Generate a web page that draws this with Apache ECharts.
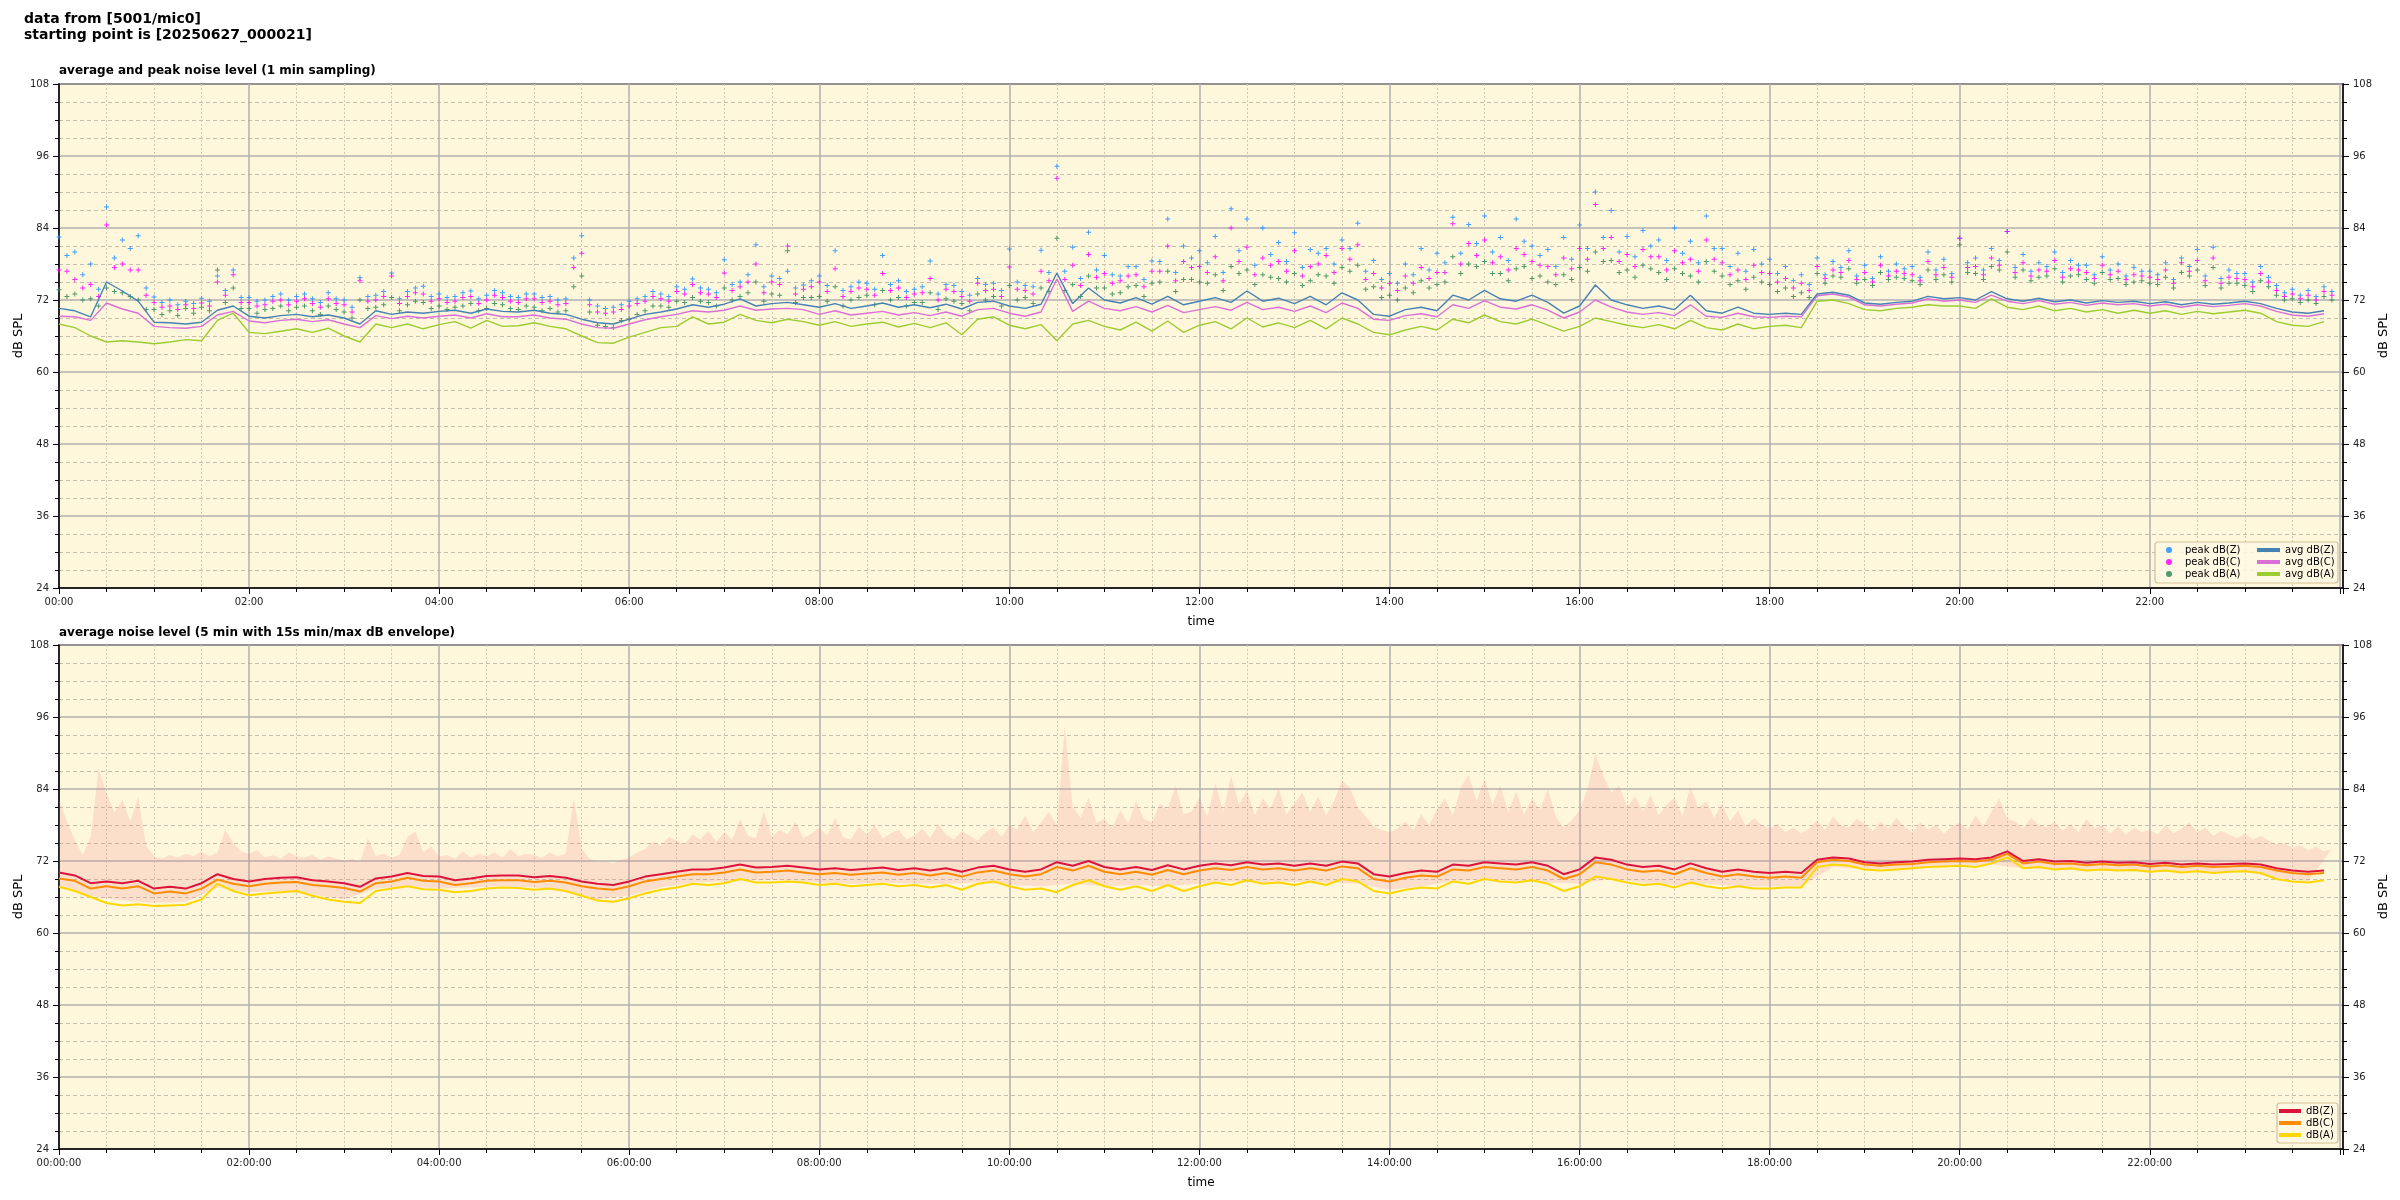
<!DOCTYPE html>
<html><head><meta charset="utf-8">
<script src="https://cdn.jsdelivr.net/npm/echarts@6/dist/echarts.min.js"></script>
<style>html,body{margin:0;padding:0;background:#fff}#c{width:2400px;height:1200px}</style>
</head><body><div id="c"></div>
<script>
// ---------- DATA (dB SPL) ----------
// top panel: 1-min sampled, read at 10-minute steps (t = 0,10,...,1430 min)
const STEP = 10;
const avgZ = [70.6,70.2,69.2,75.0,73.5,71.8, 68.3,68.2,68.0,68.3,70.3,71.0,
  69.3,69.0,69.4,69.6,69.2,69.5, 69.0,68.0,70.2,69.6,70.0,69.8,
  70.1,70.3,69.8,70.5,70.1,70.0, 70.3,69.8,69.6,68.8,68.2,68.0,
  68.8,69.6,70.0,70.5,71.2,70.8, 71.3,72.2,71.0,71.4,71.6,71.2,
  70.8,71.4,70.6,71.0,71.5,70.8, 71.2,70.7,71.3,70.5,71.6,71.8,
  71.0,70.6,71.3,76.5,71.4,74.0, 72.0,71.5,72.4,71.3,72.6,71.2,
  71.8,72.4,71.6,73.5,71.8,72.3, 71.4,72.6,71.2,73.2,72.0,69.6,
  69.3,70.4,70.8,70.2,72.8,72.0, 73.6,72.2,71.8,72.8,71.6,69.8,
  71.0,74.5,72.0,71.2,70.6,71.0, 70.4,72.8,70.2,69.8,70.8,69.8,
  69.6,69.8,69.6,73.0,73.3,72.8, 71.5,71.3,71.6,71.8,72.6,72.2,
  72.4,72.0,73.4,72.2,71.8,72.3, 71.7,72.0,71.5,71.9,71.6,71.8,
  71.4,71.7,71.2,71.6,71.3,71.5, 71.8,71.4,70.6,70.0,69.8,70.2];
const avgC = [69.3,69.2,68.6,71.5,70.5,69.8, 67.6,67.4,67.3,67.6,69.5,70.1,
  68.5,68.2,68.6,68.8,68.4,68.7, 68.0,67.4,69.4,68.9,69.3,69.0,
  69.3,69.5,69.0,69.7,69.2,69.2, 69.5,69.0,68.8,68.0,67.4,67.3,
  68.0,68.7,69.2,69.6,70.2,70.0, 70.3,71.0,70.3,70.5,70.6,70.4,
  69.6,70.2,69.5,69.8,70.1,69.5, 69.9,69.4,70.0,69.3,70.4,70.6,
  69.8,69.3,70.0,75.5,70.1,71.8, 70.6,70.2,70.9,70.0,71.1,69.9,
  70.4,70.9,70.3,71.6,70.4,70.8, 70.1,71.0,69.9,71.5,70.6,68.8,
  68.6,69.4,69.7,69.2,71.2,70.6, 71.9,70.8,70.5,71.2,70.3,69.0,
  70.0,72.0,70.8,70.0,69.6,69.9, 69.4,71.2,69.3,69.1,69.8,69.2,
  69.1,69.3,69.2,72.7,73.0,72.5, 71.2,71.0,71.3,71.5,72.2,71.8,
  72.0,71.6,72.8,71.8,71.4,71.9, 71.3,71.6,71.1,71.5,71.2,71.4,
  71.0,71.3,70.8,71.2,70.9,71.1, 71.4,71.0,70.1,69.5,69.3,69.7];
const avgA = [68.0,67.4,66.0,65.0,65.2,65.0, 64.7,65.0,65.4,65.2,68.6,69.8,
  66.6,66.4,66.8,67.2,66.6,67.3, 66.0,65.0,68.0,67.4,68.0,67.2,
  67.9,68.4,67.3,68.6,67.6,67.7, 68.2,67.6,67.2,66.0,64.9,64.8,
  65.8,66.6,67.4,67.6,69.2,68.0, 68.3,69.6,68.6,68.2,68.8,68.4,
  67.8,68.4,67.6,68.0,68.3,67.5, 68.1,67.4,68.2,66.2,68.8,69.2,
  67.8,67.2,67.9,65.2,68.0,68.6, 67.6,67.0,68.3,66.8,68.5,66.6,
  67.8,68.4,67.2,69.0,67.5,68.2, 67.4,68.6,67.2,69.0,68.0,66.6,
  66.2,67.0,67.6,67.0,68.8,68.2, 69.5,68.4,68.0,68.8,67.8,66.8,
  67.6,69.0,68.4,67.8,67.4,67.9, 67.2,68.6,67.4,67.0,68.0,67.2,
  67.6,67.8,67.4,71.8,72.0,71.4, 70.4,70.2,70.6,70.8,71.2,71.0,
  71.0,70.6,72.2,70.8,70.4,71.0, 70.2,70.6,70.0,70.4,69.8,70.3,
  69.8,70.2,69.6,70.1,69.7,70.0, 70.3,69.8,68.4,67.8,67.6,68.4];
// peaks at t = 0,10,20,... min
const peakZ = [82.5,80.0,78.0,87.5,82.0,82.7, 72.5,72.0,71.8,72.3,76.0,77.0,
  72.4,72.0,73.0,72.6,72.2,73.2, 72.0,75.7,72.8,76.5,73.4,74.3,
  73.0,72.6,73.5,72.8,73.2,72.4, 73.0,72.6,72.2,82.7,71.0,70.8,
  71.8,72.6,73.0,74.2,75.5,73.8, 78.7,75.0,81.2,76.0,76.8,74.5,
  76.0,80.2,74.2,74.8,79.4,75.2, 73.8,78.5,74.6,73.4,75.6,74.8,
  80.5,74.4,80.3,94.3,80.8,83.3, 79.4,76.0,77.6,78.5,85.5,81.0,
  80.2,82.6,87.2,85.5,84.0,81.6, 83.2,80.4,80.6,82.0,84.8,78.6,
  76.4,78.0,80.6,79.8,85.8,84.6, 86.0,82.4,85.5,81.0,80.4,82.4,
  84.5,90.0,86.9,82.6,83.6,82.0, 84.0,81.8,86.0,80.6,79.8,80.4,
  78.8,77.6,76.2,79.0,78.4,80.2, 77.8,79.2,78.0,77.6,80.0,78.8,
  82.3,79.0,80.6,83.4,79.6,78.2, 80.0,78.6,77.8,79.2,78.0,77.4,
  76.8,78.2,79.0,80.4,80.8,77.0, 76.4,77.6,74.4,73.8,73.6,74.2];
const peakC = [77.0,75.4,74.6,84.5,78.0,77.0, 71.6,71.0,71.2,71.5,75.0,76.2,
  71.6,71.2,72.0,71.8,71.4,72.2, 71.2,75.2,72.0,76.0,72.6,73.0,
  72.2,71.8,72.6,72.0,72.4,71.6, 72.2,71.8,71.4,79.8,70.0,70.0,
  71.0,71.8,72.2,73.4,74.6,73.0, 76.5,74.2,78.0,75.0,81.0,73.8,
  75.0,77.2,73.4,73.8,76.4,74.0, 73.0,75.6,73.8,72.6,74.8,73.8,
  77.5,73.6,76.8,92.3,77.8,79.6, 76.4,75.2,76.2,76.8,81.0,78.4,
  77.6,79.2,84.0,80.8,79.0,78.4, 80.2,77.6,79.4,80.6,81.2,76.4,
  74.8,76.0,77.4,76.6,84.7,81.4, 82.0,79.2,80.6,78.4,77.6,79.0,
  80.6,87.9,82.4,79.6,80.4,79.2, 80.2,78.8,82.0,78.2,77.0,77.8,
  76.4,75.6,74.8,77.6,77.0,78.6, 76.6,77.8,76.8,76.2,78.4,77.4,
  82.3,77.6,79.0,83.4,78.2,77.0, 78.6,77.2,76.6,77.8,76.8,76.2,
  75.8,77.0,78.2,78.6,79.0,75.8, 75.4,76.4,73.6,73.0,72.8,73.4];
const peakA = [73.7,73.0,72.2,74.0,73.2,72.0, 70.4,70.2,70.6,70.8,77.0,74.0,
  70.6,70.4,71.0,70.8,70.2,71.0, 70.0,72.0,70.8,72.4,71.2,71.6,
  71.0,70.8,71.4,70.6,71.2,70.4, 70.8,70.6,70.2,76.0,67.8,67.4,
  68.8,70.2,71.0,71.8,72.4,71.6, 74.0,72.6,75.0,73.0,80.2,72.4,
  72.6,74.2,72.0,72.8,73.6,72.4, 71.6,73.2,72.2,71.4,73.0,72.6,
  74.4,72.4,74.0,82.3,74.6,76.0, 74.0,73.2,74.4,74.8,76.8,75.4,
  75.0,76.2,77.6,77.0,76.2,75.6, 76.4,75.2,76.0,77.4,77.8,74.2,
  72.8,74.0,75.2,74.6,79.2,78.0, 78.4,76.4,77.2,75.6,75.0,76.2,
  77.4,80.0,78.6,77.0,77.8,76.6, 77.2,76.0,78.4,76.0,75.2,75.8,
  74.6,74.0,73.2,76.4,76.0,77.2, 75.4,76.6,75.8,75.2,77.0,76.2,
  81.2,76.4,77.6,80.0,77.0,75.8, 77.2,76.0,75.4,76.6,75.6,75.0,
  74.8,75.8,76.6,77.0,77.4,74.8, 74.4,75.2,72.8,72.2,72.0,72.6];
// peaks at t = 5,15,25,... min
const peakZ5 = [79.4,76.2,73.8,79.0,80.6,74.0, 71.6,71.2,71.4,71.8,73.6,72.4,
  71.8,72.6,72.0,73.0,71.6,72.2, 70.8,72.6,73.4,72.2,74.0,72.6,
  72.4,73.2,72.2,73.6,72.6,73.0, 72.4,72.0,79.0,72.0,70.6,71.2,
  72.2,73.4,72.6,73.8,74.0,73.2, 74.6,76.2,74.2,75.6,74.0,75.2,
  74.4,73.6,75.0,73.8,74.6,73.4, 74.2,73.0,74.4,72.8,74.6,73.6,
  75.0,74.2,76.6,76.8,75.6,77.0, 76.2,77.6,75.4,78.4,76.6,79.0,
  78.2,76.6,80.2,77.8,79.6,78.4, 77.4,79.8,78.0,80.6,76.8,75.4,
  74.8,76.2,77.0,78.2,79.8,81.4, 80.0,78.6,81.8,79.4,77.6,78.8,
  80.6,82.4,80.0,79.2,81.0,78.6, 79.8,78.2,80.6,77.6,76.8,78.0,
  76.4,75.2,74.6,76.2,77.4,76.0, 75.6,76.8,77.2,75.8,77.0,76.4,
  78.2,77.0,78.6,77.4,76.8,77.6, 76.6,77.8,76.2,77.0,76.0,76.8,
  76.2,75.4,77.6,76.0,75.6,76.4, 75.0,75.8,73.2,72.8,72.6,73.4];
const peakC5 = [76.8,74.0,72.6,77.4,77.0,72.8, 70.8,70.4,70.6,71.0,72.8,71.6,
  71.0,71.8,71.2,72.2,70.8,71.4, 70.0,71.8,72.6,71.4,73.2,71.8,
  71.6,72.4,71.4,72.8,71.8,72.2, 71.6,71.2,77.4,71.2,69.8,70.4,
  71.4,72.6,71.8,73.0,73.2,72.4, 73.6,75.0,73.2,74.6,73.0,74.2,
  73.4,72.6,74.0,72.8,73.6,72.4, 73.2,72.0,73.4,71.8,73.6,72.6,
  73.8,73.0,75.2,75.4,74.4,75.8, 74.8,76.0,74.2,76.8,75.2,77.4,
  76.6,75.2,78.4,76.2,77.8,76.8, 76.0,78.0,76.6,78.8,75.4,74.0,
  73.6,74.8,75.6,76.6,78.0,79.4, 78.2,77.0,79.6,77.8,76.2,77.2,
  78.8,80.6,78.4,77.6,79.2,77.0, 78.2,76.8,78.8,76.2,75.4,76.6,
  75.0,74.0,73.6,75.6,76.6,75.4, 75.0,76.0,76.4,75.2,76.2,75.8,
  77.4,76.2,77.8,76.6,76.0,76.8, 75.8,77.0,75.6,76.2,75.4,76.0,
  75.4,74.8,76.8,75.2,74.8,75.6, 74.2,75.0,72.6,72.2,72.0,72.8];
const peakA5 = [72.6,72.0,71.0,73.4,72.6,70.4, 69.6,69.4,69.8,70.2,71.6,70.6,
  69.8,70.6,70.2,71.0,69.6,70.4, 69.0,70.6,71.2,70.2,71.8,70.6,
  70.4,71.0,70.2,71.4,70.6,71.0, 70.2,70.0,74.2,70.0,67.6,68.6,
  69.6,71.0,70.8,71.6,71.8,71.0, 72.0,73.2,71.8,72.8,71.6,72.4,
  71.8,71.0,72.4,71.2,72.0,71.0, 71.6,70.4,71.8,70.2,72.0,71.0,
  72.0,71.4,73.4,73.6,72.6,74.0, 73.0,74.2,72.6,75.0,73.4,75.4,
  74.8,73.6,76.4,74.6,75.8,75.0, 74.4,76.2,74.8,76.8,73.8,72.4,
  72.0,73.2,74.0,75.0,76.4,77.6, 76.4,75.2,77.6,76.0,74.6,75.4,
  76.8,78.4,76.6,75.8,77.2,75.4, 76.4,75.0,76.8,74.6,73.8,75.0,
  73.4,72.6,72.4,74.8,75.8,74.8, 74.4,75.4,75.6,74.6,75.4,75.0,
  76.6,75.4,77.0,75.8,75.2,76.0, 75.0,76.2,74.8,75.4,74.6,75.2,
  74.6,74.0,76.0,74.4,74.0,74.8, 73.4,74.2,72.0,71.6,71.4,72.0];

// bottom panel: 5-min averages read at 10-minute steps
const dbZ = [70.1,69.6,68.3,68.6,68.3,68.7, 67.4,67.7,67.4,68.3,69.8,69.0,
  68.6,69.0,69.2,69.3,68.8,68.6, 68.3,67.7,69.1,69.4,70.0,69.5,
  69.4,68.8,69.1,69.5,69.6,69.6, 69.3,69.5,69.2,68.6,68.2,68.0,
  68.6,69.4,69.8,70.2,70.6,70.6, 70.9,71.4,70.9,71.0,71.2,70.9,
  70.6,70.8,70.5,70.7,70.9,70.5, 70.8,70.4,70.8,70.2,70.9,71.2,
  70.6,70.2,70.6,71.8,71.2,72.0, 71.0,70.6,71.0,70.5,71.3,70.6,
  71.2,71.6,71.3,71.8,71.4,71.6, 71.2,71.6,71.2,71.9,71.6,69.8,
  69.4,70.0,70.4,70.2,71.4,71.2, 71.8,71.6,71.4,71.8,71.2,69.8,
  70.6,72.6,72.2,71.4,71.0,71.2, 70.6,71.6,70.8,70.2,70.6,70.2,
  70.0,70.2,70.0,72.2,72.6,72.4, 71.8,71.6,71.8,71.9,72.2,72.3,
  72.4,72.3,72.6,73.6,72.0,72.3, 71.9,72.0,71.7,71.9,71.7,71.8,
  71.5,71.7,71.4,71.6,71.4,71.5, 71.6,71.4,70.8,70.4,70.2,70.4];
const dbC = [69.1,68.7,67.4,67.8,67.4,67.8, 66.6,66.9,66.6,67.4,68.9,68.2,
  67.8,68.2,68.4,68.5,68.0,67.8, 67.5,66.9,68.3,68.6,69.2,68.7,
  68.6,68.0,68.3,68.7,68.8,68.8, 68.5,68.7,68.4,67.8,67.4,67.2,
  67.8,68.6,69.0,69.4,69.8,69.8, 70.1,70.6,70.1,70.2,70.4,70.1,
  69.8,70.0,69.7,69.9,70.1,69.7, 70.0,69.6,70.0,69.4,70.1,70.4,
  69.8,69.4,69.8,71.0,70.4,71.2, 70.2,69.8,70.2,69.7,70.5,69.8,
  70.4,70.8,70.5,71.0,70.6,70.8, 70.4,70.8,70.4,71.1,70.8,69.0,
  68.6,69.2,69.6,69.4,70.6,70.4, 71.0,70.8,70.6,71.0,70.4,69.0,
  69.8,71.8,71.4,70.6,70.2,70.4, 69.8,70.8,70.0,69.4,69.8,69.4,
  69.2,69.4,69.2,71.8,72.2,72.0, 71.4,71.2,71.4,71.5,71.8,71.9,
  72.0,71.9,72.2,73.2,71.6,71.9, 71.5,71.6,71.3,71.5,71.3,71.4,
  71.1,71.3,71.0,71.2,71.0,71.1, 71.2,71.0,70.4,70.0,69.8,70.0];
const dbA = [67.7,67.0,66.0,65.0,64.6,64.8, 64.5,64.6,64.7,65.6,68.2,67.0,
  66.3,66.6,66.8,67.0,66.2,65.6, 65.2,65.0,67.0,67.4,67.8,67.3,
  67.2,66.8,67.0,67.4,67.6,67.5, 67.2,67.4,67.0,66.2,65.4,65.2,
  65.8,66.6,67.2,67.6,68.2,68.0, 68.3,69.0,68.4,68.4,68.6,68.4,
  68.0,68.2,67.8,68.0,68.2,67.8, 68.0,67.6,68.0,67.2,68.2,68.6,
  67.8,67.2,67.4,66.8,68.0,68.8, 67.8,67.2,67.8,67.0,68.0,67.0,
  67.8,68.4,68.0,68.8,68.2,68.4, 68.0,68.6,68.0,69.0,68.6,67.0,
  66.6,67.2,67.6,67.4,68.6,68.2, 69.0,68.6,68.4,68.8,68.2,67.0,
  67.8,69.4,69.0,68.4,68.0,68.2, 67.6,68.4,67.8,67.4,67.8,67.4,
  67.4,67.6,67.6,71.0,71.4,71.2, 70.6,70.4,70.6,70.8,71.0,71.1,
  71.2,71.0,71.6,72.6,70.8,71.0, 70.6,70.8,70.4,70.6,70.4,70.5,
  70.2,70.4,70.1,70.3,70.0,70.2, 70.3,70.0,69.0,68.6,68.4,68.8];

// 15 s min/max envelope: max read at 5-minute steps, min at 20-minute steps
const ENV_MAX_STEP = 5;
const envMax = [82.4,78.5,75.5,73.0,76.0,87.4,83.3,80.0,82.2,78.6,82.7,74.5,
  72.8,72.4,73.0,72.6,73.2,72.8,73.6,72.8,73.4,77.2,75.0,73.6,
  73.2,73.8,72.6,73.0,72.4,73.4,72.8,72.6,73.0,72.2,72.8,72.4,
  72.0,72.4,71.8,75.8,72.8,73.2,72.6,73.0,76.0,76.9,73.4,74.4,
  72.8,73.0,72.4,73.6,72.6,73.2,72.8,73.4,72.6,74.0,72.8,73.2,
  73.0,72.6,73.4,72.8,73.2,82.6,74.0,72.4,71.8,72.0,71.6,72.2,
  72.6,73.4,74.0,75.2,74.6,76.0,75.4,74.8,76.4,75.6,77.0,75.2,
  76.8,75.6,79.0,76.2,75.8,80.4,76.0,77.2,76.4,78.6,75.8,76.6,
  77.6,76.2,79.2,76.0,75.6,77.8,76.4,78.0,75.8,76.6,77.2,75.6,
  76.2,77.4,75.8,78.2,76.4,75.6,77.0,76.2,75.4,76.8,77.6,76.0,
  78.0,77.2,79.6,76.8,78.4,80.2,78.0,94.6,81.0,79.2,82.5,78.4,
  79.0,77.6,80.4,78.2,82.0,79.0,78.4,81.6,80.6,84.6,79.8,80.2,
  82.6,79.4,85.0,80.2,86.2,81.4,83.8,79.6,82.4,80.8,84.2,79.8,
  81.6,83.4,80.2,82.8,79.6,82.0,85.4,84.2,81.0,79.4,77.8,77.2,
  76.8,77.4,78.6,77.2,79.8,78.0,80.6,82.4,79.6,84.2,86.4,82.0,
  85.8,81.4,84.6,80.2,83.6,79.8,82.4,80.6,84.0,79.4,77.6,78.8,
  80.4,84.0,89.8,86.2,83.4,84.6,81.0,82.8,80.2,83.0,79.6,81.4,
  82.6,79.4,84.4,80.8,82.0,79.2,81.6,78.6,80.4,77.8,79.2,78.0,
  77.4,78.2,76.8,77.6,76.6,77.4,78.8,77.2,79.4,78.0,77.6,79.0,
  78.2,77.0,78.6,77.4,79.2,77.8,76.8,78.4,77.2,78.0,76.6,77.8,
  78.4,77.2,79.6,77.8,80.2,82.4,79.0,78.6,77.4,79.2,78.0,77.6,
  78.6,77.0,78.2,76.8,79.0,77.4,78.0,76.6,77.8,76.4,77.6,76.8,
  77.2,76.4,78.0,76.6,77.4,78.4,76.8,77.6,76.2,77.0,76.4,75.8,
  76.6,75.6,76.2,75.4,74.8,75.0,74.2,74.6,73.8,74.4,73.6,74.0];
const ENV_MIN_STEP = 20;
const envMin = [67.8,66.2,65.4,65.0,65.2,67.6,66.8,67.0,66.4,65.6,67.4,67.8,
  67.4,67.6,67.8,67.6,66.8,65.6,66.2,67.6,68.4,68.6,68.8,68.8,
  68.4,68.2,68.4,68.2,68.2,68.4,68.0,67.8,68.2,67.8,68.0,67.8,
  68.2,68.6,68.4,68.6,68.4,68.2,67.2,67.8,68.6,69.0,68.6,68.4,
  68.2,69.0,68.4,68.0,68.2,67.8,67.8,67.8,71.0,70.6,70.8,71.0,
  71.2,71.4,70.8,70.6,70.4,70.4,70.2,70.2,70.0,70.2,69.2,68.6];

const yTicks = [24, 36, 48, 60, 72, 84, 96, 108];
const TITLE = 'data from [5001/mic0]\nstarting point is [20250627_000021]';
const TOP_TITLE = 'average and peak noise level (1 min sampling)';
const BOTTOM_TITLE = 'average noise level (5 min with 15s min/max dB envelope)';

// ---------- CHART ----------
const FONT = 'DejaVu Sans';
const pad = n => String(n).padStart(2, '0');
const toPairs = (arr, step, off) => arr.map((v, i) => [(off || 0) + i * step, v]);

function xAx(grid, withSec) {
  return {
    type: 'value', gridIndex: grid, min: 0, max: 1442, interval: 120,
    name: 'time', nameLocation: 'middle', nameGap: 28,
    nameTextStyle: { fontFamily: FONT, fontSize: 12, color: '#000' },
    axisLine: { show: true, onZero: false, lineStyle: { color: '#000', width: 1.5 } },
    axisTick: { show: true, length: 6, lineStyle: { color: '#000', width: 1 } },
    minorTick: { show: true, splitNumber: 4, length: 4, lineStyle: { color: '#000', width: 1 } },
    axisLabel: {
      fontFamily: FONT, fontSize: 10, color: '#222', margin: 9, showMaxLabel: true,
      formatter: v => (v % 120 === 0 && v < 1440) ? (pad(v / 60) + ':00' + (withSec ? ':00' : '')) : ''
    },
    splitLine: { show: true, lineStyle: { color: '#b0b0b0', width: 1.5 } },
    minorSplitLine: { show: true, lineStyle: { color: '#d2c8b2', width: 1, type: [2, 2] } }
  };
}
function yAx(grid, pos) {
  return {
    type: 'value', gridIndex: grid, position: pos, min: yTicks[0], max: yTicks[yTicks.length - 1], interval: 12,
    name: 'dB SPL', nameLocation: 'middle', nameGap: 34, nameRotate: 90, nameMoveOverlap: false,
    nameTextStyle: { fontFamily: FONT, fontSize: 13, color: '#000' },
    axisLine: { show: true, onZero: false, lineStyle: { color: '#000', width: 1.5 } },
    axisTick: { show: true, length: 6, lineStyle: { color: '#000', width: 1 } },
    minorTick: { show: true, splitNumber: 4, length: 4, lineStyle: { color: '#000', width: 1 } },
    axisLabel: { fontFamily: FONT, fontSize: 10, color: '#222', margin: 10 },
    splitLine: { show: pos === 'left', lineStyle: { color: '#b0b0b0', width: 1.5 } },
    minorSplitLine: { show: pos === 'left', lineStyle: { color: '#c6beac', width: 1, type: [4, 3] } }
  };
}
const PLUS = 'path://M-1,-5H1V-1H5V1H1V5H-1V1H-5V-1H-1Z';
function peakSeries(name, a10, a5, color) {
  return { name, type: 'scatter', xAxisIndex: 0, yAxisIndex: 0,
    data: toPairs(a10, STEP, 0).concat(toPairs(a5, STEP, STEP / 2)),
    symbol: PLUS, symbolSize: 5, itemStyle: { color, opacity: 0.85 }, z: 2, silent: true };
}
function lineSeries(name, arr, color, xi, yi, w, z) {
  return { name, type: 'line', xAxisIndex: xi, yAxisIndex: yi, data: toPairs(arr, STEP, 0),
    showSymbol: false, symbol: 'none', lineStyle: { color, width: w }, itemStyle: { color }, z, silent: true, animation: false };
}

const cZ = '#1e90ff', cC = '#ff00ff', cA = '#2e8b57';
const lZ = '#4682b4', lC = '#da70d6', lA = '#9acd32';
const bZ = '#dc143c', bC = '#ff8c00', bA = '#ffd700';
const LEG_TEXT = { fontFamily: FONT, fontSize: 10, color: '#000', lineHeight: 12 };

const option = {
  animation: false,
  backgroundColor: '#ffffff',
  title: [
    { text: TITLE, left: 24, top: 11, padding: 0, textStyle: { fontFamily: FONT, fontSize: 14, fontWeight: 'bold', lineHeight: 16, color: '#000' } },
    { text: TOP_TITLE, left: 59, top: 65, padding: 0, textStyle: { fontFamily: FONT, fontSize: 12, fontWeight: 'bold', color: '#000' } },
    { text: BOTTOM_TITLE, left: 59, top: 627, padding: 0, textStyle: { fontFamily: FONT, fontSize: 12, fontWeight: 'bold', color: '#000' } }
  ],
  grid: [
    { left: 59, right: 57, top: 84, height: 504, show: true, backgroundColor: '#fff7dc', borderColor: '#000', borderWidth: 1.5 },
    { left: 59, right: 57, top: 645, height: 504, show: true, backgroundColor: '#fff7dc', borderColor: '#000', borderWidth: 1.5 }
  ],
  xAxis: [xAx(0, false), xAx(1, true)],
  yAxis: [yAx(0, 'left'), yAx(0, 'right'), yAx(1, 'left'), yAx(1, 'right')],
  legend: [
    { orient: 'vertical', left: 2166, top: 544, padding: 0, itemWidth: 6, itemHeight: 6, itemGap: 0, selectedMode: false,
      textStyle: Object.assign({ padding: [0, 0, 0, 8] }, LEG_TEXT),
      data: [{ name: 'peak dB(Z)', icon: 'circle' }, { name: 'peak dB(C)', icon: 'circle' }, { name: 'peak dB(A)', icon: 'circle' }] },
    { orient: 'vertical', left: 2257, top: 544, padding: 0, itemWidth: 23, itemHeight: 4, itemGap: 0, selectedMode: false,
      textStyle: LEG_TEXT,
      data: [{ name: 'avg dB(Z)', icon: 'rect' }, { name: 'avg dB(C)', icon: 'rect' }, { name: 'avg dB(A)', icon: 'rect' }] },
    { orient: 'vertical', left: 2279, top: 1105, padding: 0, itemWidth: 22, itemHeight: 4, itemGap: 0, selectedMode: false,
      textStyle: LEG_TEXT,
      data: [{ name: 'dB(Z)', icon: 'rect' }, { name: 'dB(C)', icon: 'rect' }, { name: 'dB(A)', icon: 'rect' }] }
  ],
  graphic: [
    { type: 'rect', z: 3, shape: { x: 2155, y: 542, width: 183, height: 41, r: 3 },
      style: { fill: 'rgba(255,249,228,0.85)', stroke: '#d6bf96', lineWidth: 1.2 } },
    { type: 'rect', z: 3, shape: { x: 2277, y: 1103, width: 61, height: 40, r: 3 },
      style: { fill: 'rgba(255,249,228,0.85)', stroke: '#d6bf96', lineWidth: 1.2 } }
  ],
  series: [
    peakSeries('peak dB(Z)', peakZ, peakZ5, cZ),
    peakSeries('peak dB(C)', peakC, peakC5, cC),
    peakSeries('peak dB(A)', peakA, peakA5, cA),
    lineSeries('avg dB(A)', avgA, lA, 0, 0, 1.4, 3),
    lineSeries('avg dB(C)', avgC, lC, 0, 0, 1.4, 4),
    lineSeries('avg dB(Z)', avgZ, lZ, 0, 0, 1.4, 5),
    { type: 'custom', name: 'envelope', xAxisIndex: 1, yAxisIndex: 2, data: [[0, envMin[0]]], z: 2, silent: true,
      renderItem: (params, api) => {
        const pts = [];
        envMax.forEach((v, j) => pts.push(api.coord([j * ENV_MAX_STEP, v])));
        for (let k = envMin.length - 1; k >= 0; k--) pts.push(api.coord([k * ENV_MIN_STEP, envMin[k]]));
        return { type: 'polygon', shape: { points: pts }, style: { fill: 'rgba(240,128,128,0.2)' } };
      } },
    lineSeries('dB(A)', dbA, bA, 1, 2, 2, 3),
    lineSeries('dB(C)', dbC, bC, 1, 2, 2, 4),
    lineSeries('dB(Z)', dbZ, bZ, 1, 2, 2, 5)
  ]
};
const chart = echarts.init(document.getElementById('c'), null, { renderer: 'canvas' });
chart.setOption(option);
</script>
</body></html>
